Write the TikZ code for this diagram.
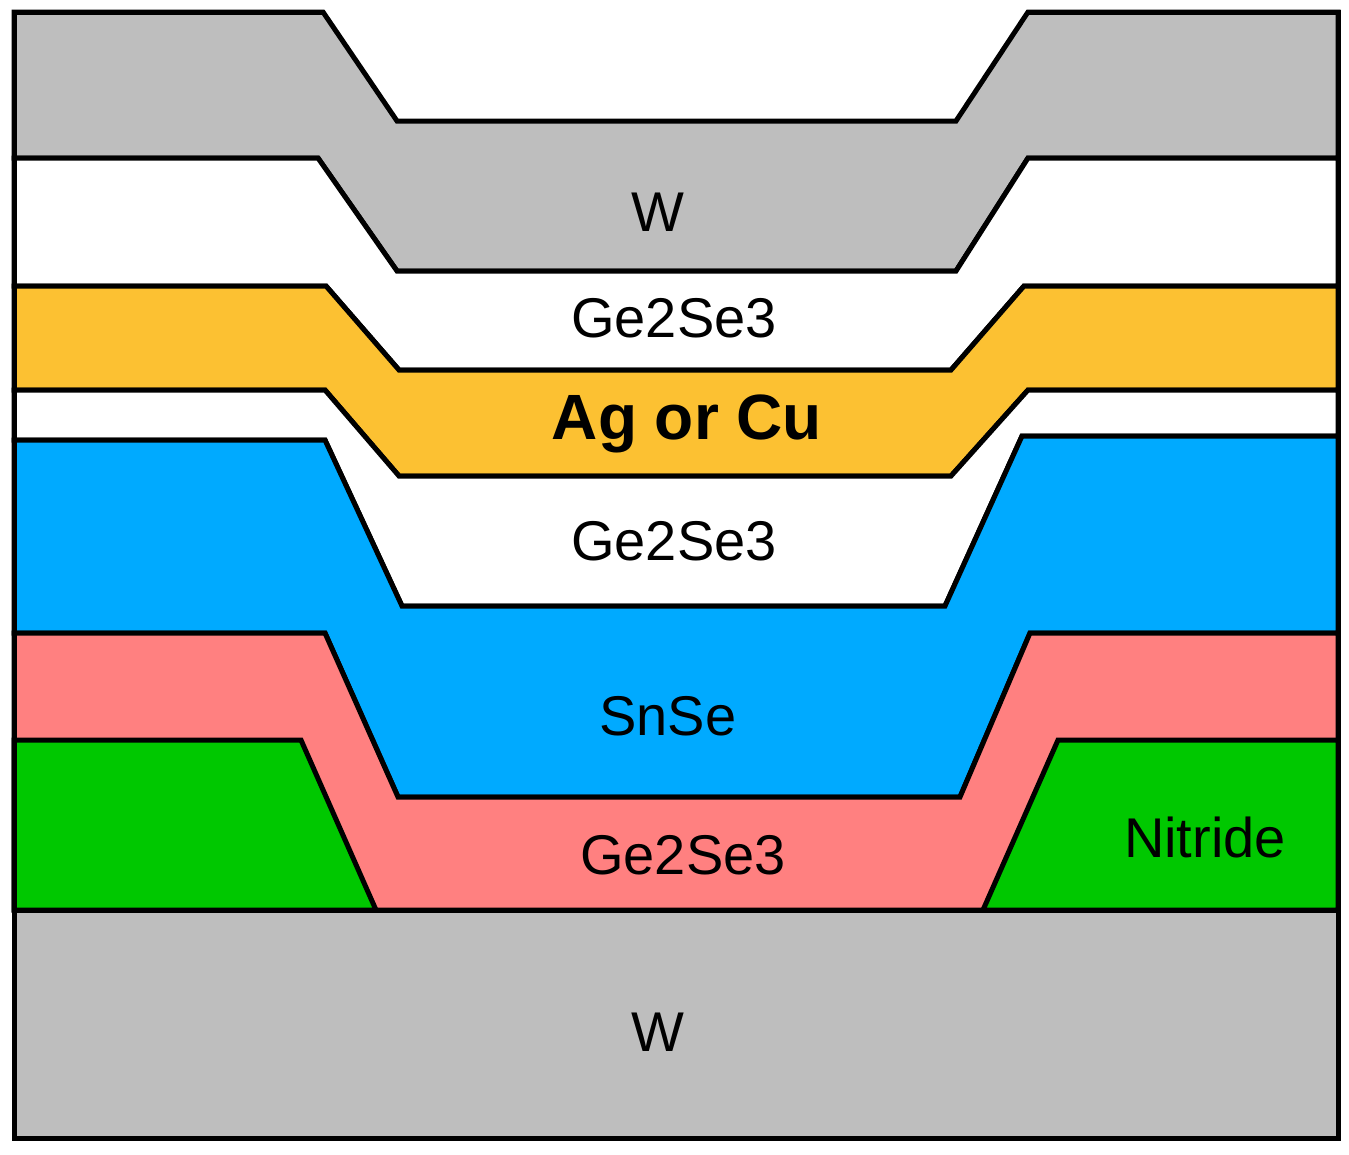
\documentclass[tikz,border=0pt]{standalone}
\usepackage{fontspec}
\setmainfont{Liberation Sans}
\begin{document}
\begin{tikzpicture}[x=1pt,y=-1pt,line width=5pt,line join=miter,
 lay/.style={draw=black},
 lab/.style={font=\fontsize{56}{64}\selectfont}]
\useasboundingbox (0,0) rectangle (1349,1154);
\definecolor{wg}{HTML}{BEBEBE}
\definecolor{au}{HTML}{FCC132}
\definecolor{bl}{HTML}{00AAFF}
\definecolor{pk}{HTML}{FF8080}
\definecolor{gr}{HTML}{00C800}
% top W
\draw[lay,fill=wg] (14,12)--(323,12)--(397,121)--(956,121)--(1028,12)--(1338,12)--(1338,158)--(1028,158)--(956,271)--(397,271)--(318,158)--(14,158)--cycle;
% Ge2Se3 top
\draw[lay,fill=white] (14,158)--(318,158)--(397,271)--(956,271)--(1028,158)--(1338,158)--(1338,286)--(1024,286)--(951,370)--(399,370)--(326,286)--(14,286)--cycle;
% Ag/Cu
\draw[lay,fill=au] (14,286)--(326,286)--(399,370)--(951,370)--(1024,286)--(1338,286)--(1338,390)--(1028,390)--(951,476)--(399,476)--(325,390)--(14,390)--cycle;
% Ge2Se3 middle
\draw[lay,fill=white] (14,390)--(325,390)--(399,476)--(951,476)--(1028,390)--(1338,390)--(1338,436)--(1022,436)--(945,606)--(402,606)--(325,440)--(14,440)--cycle;
% SnSe
\draw[lay,fill=bl] (14,440)--(325,440)--(402,606)--(945,606)--(1022,436)--(1338,436)--(1338,633)--(1030,633)--(960,797)--(398,797)--(325,633)--(14,633)--cycle;
% Ge2Se3 bottom
\draw[lay,fill=pk] (14,633)--(325,633)--(398,797)--(960,797)--(1030,633)--(1338,633)--(1338,910)--(14,910)--cycle;
% Nitride
\draw[lay,fill=gr] (14,740)--(301,740)--(376,910)--(14,910)--cycle;
\draw[lay,fill=gr] (1058,740)--(1338,740)--(1338,910)--(983,910)--cycle;
% bottom W
\draw[lay,fill=wg] (14,910)--(1338,910)--(1338,1138)--(14,1138)--cycle;
\draw[lay] (323,12)--(14,12)--(14,1138)--(1338,1138)--(1338,12)--(1028,12);
\node[lab] (w1) at (658,212) {W};
\node[lab] (g1) at (674,318) {Ge2Se3};
\node[font=\fontsize{64}{72}\selectfont\bfseries] (ag) at (687,424) {Ag or Cu};
\node[lab] (g2) at (674,541) {Ge2Se3};
\node[lab] (sn) at (668,716) {SnSe};
\node[lab] (g3) at (683,855) {Ge2Se3};
\node[lab] (ni) at (1205,837) {Nitride};
\node[lab] (w2) at (658,1032) {W};
\end{tikzpicture}
\end{document}
